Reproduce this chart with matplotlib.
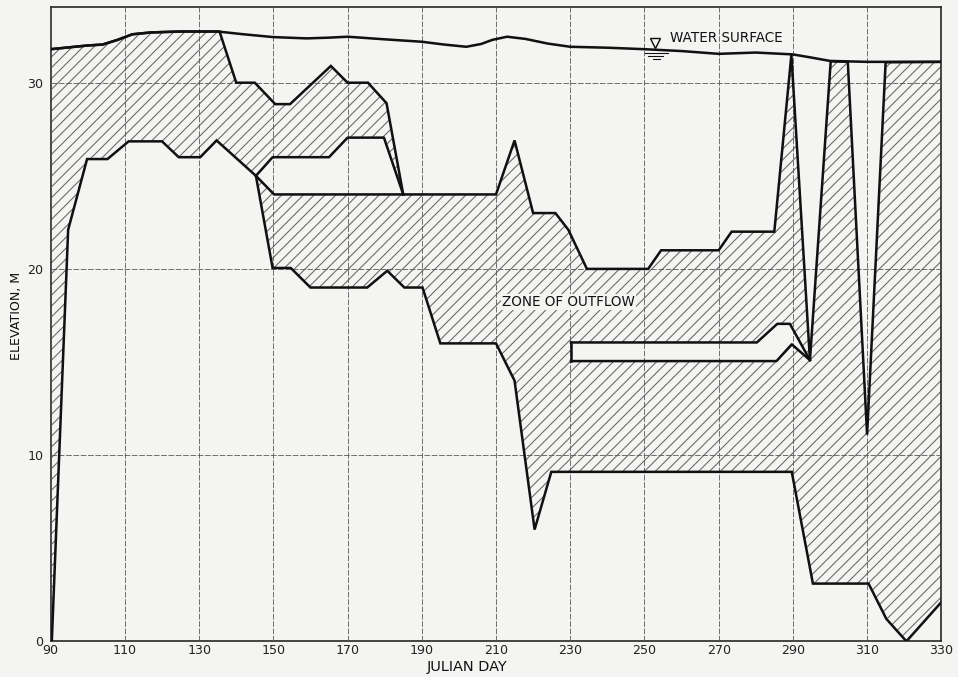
import matplotlib

matplotlib.use("Agg")
import matplotlib.pyplot as plt

# water surface elevation (m) by julian day
ws_day = [90, 95, 100, 104, 108, 112, 117, 125, 135, 142, 150, 159, 165, 170,
          180, 190, 196, 202, 206, 209, 213, 218, 224, 230, 240, 250, 260, 270,
          280, 290, 295, 300, 310, 330]
ws_elev = [31.8, 31.9, 32.0, 32.05, 32.3, 32.6, 32.7, 32.75, 32.75, 32.6, 32.45,
           32.38, 32.42, 32.47, 32.33, 32.2, 32.05, 31.93, 32.08, 32.3, 32.47,
           32.35, 32.1, 31.93, 31.88, 31.8, 31.7, 31.55, 31.62, 31.52, 31.35,
           31.17, 31.12, 31.12]

# upper limit of the zone of outflow
top_day = [90, 95, 100, 104, 108, 112, 117, 125, 135.5, 140, 145, 150.5, 154.5,
           165.5, 170, 175.5, 180.5, 185, 210, 215, 220, 226, 229.5, 234.5, 251,
           254.5, 270, 273.5, 285, 289.6, 294.6, 300.2, 304.8, 310, 315, 330]
top_elev = [31.8, 31.9, 32.0, 32.05, 32.3, 32.6, 32.7, 32.75, 32.75, 30.0, 30.0,
            28.85, 28.85, 30.9, 30.0, 30.0, 28.9, 24.0, 24.0, 26.9, 23.0, 23.0,
            22.1, 20.0, 20.0, 21.0, 21.0, 22.0, 22.0, 31.5, 15.1, 31.15, 31.12,
            11.1, 31.1, 31.12]

# lower limit of the zone of outflow
bot_day = [90.3, 94.7, 99.8, 105.3, 111, 120, 124.5, 130.3, 134.7, 145.3, 149.8,
           154.7, 160, 175.3, 180.7, 185.3, 190.2, 195, 210, 215, 220.4, 224.9,
           289.7, 295.4, 310.4, 315.2, 320.6, 330]
bot_elev = [0.0, 22.1, 25.9, 25.9, 26.85, 26.85, 26.0, 26.0, 26.9, 25.0, 20.05,
            20.05, 19.0, 19.0, 19.9, 19.0, 19.0, 16.0, 16.0, 14.0, 6.0, 9.1,
            9.1, 3.1, 3.1, 1.2, 0.0, 2.1]

# gap between the two outflow layers, days 145-185
gap_top_day = [145.3, 149.8, 165, 170, 179.8, 185]
gap_top_elev = [25.0, 26.0, 26.0, 27.05, 27.05, 24.0]
gap_bot_day = [145.3, 150.2, 185]
gap_bot_elev = [25.0, 24.0, 24.0]

# no-outflow strip, days 230-295
strip_top_day = [230.2, 280.3, 285.8, 289.2, 294.6]
strip_top_elev = [16.05, 16.05, 17.05, 17.05, 15.1]
strip_bot_day = [230.2, 285.6, 289.7, 294.6]
strip_bot_elev = [15.05, 15.05, 15.95, 15.1]

x_ticks = list(range(90, 331, 20))
y_ticks = [0, 10, 20, 30]

BG = "#f4f4f2"
INK = "#111111"

plt.rcParams["hatch.linewidth"] = 0.6
plt.rcParams["font.family"] = "DejaVu Sans"

fig = plt.figure(figsize=(958 / 130, 677 / 130), dpi=130, facecolor=BG)
ax = fig.add_axes([50.7 / 958, 1 - 641.3 / 677, 890.6 / 958, 634 / 677])
ax.set_facecolor(BG)

# hatched zone, then the holes painted back to paper colour
ax.fill(top_day + bot_day[::-1], top_elev + bot_elev[::-1],
        facecolor="none", edgecolor="#6a6a6a", hatch="////", linewidth=0, zorder=1)
ax.fill(gap_top_day + gap_bot_day[::-1], gap_top_elev + gap_bot_elev[::-1],
        facecolor=BG, edgecolor="none", zorder=1.5)
ax.fill(strip_top_day + strip_bot_day[::-1], strip_top_elev + strip_bot_elev[::-1],
        facecolor=BG, edgecolor="none", zorder=1.5)

lw = 1.4
ax.plot(ws_day, ws_elev, color=INK, lw=lw, zorder=3)
ax.plot(top_day, top_elev, color=INK, lw=lw, zorder=3, solid_joinstyle="miter")
ax.plot(bot_day, bot_elev, color=INK, lw=lw, zorder=3, solid_joinstyle="miter")
ax.plot(gap_top_day, gap_top_elev, color=INK, lw=lw, zorder=3)
ax.plot(gap_bot_day, gap_bot_elev, color=INK, lw=lw, zorder=3)
ax.plot(strip_top_day, strip_top_elev, color=INK, lw=lw, zorder=3)
ax.plot(strip_bot_day, strip_bot_elev, color=INK, lw=lw, zorder=3)
ax.plot([strip_top_day[0], strip_bot_day[0]], [strip_top_elev[0], strip_bot_elev[0]],
        color=INK, lw=lw, zorder=3)

ax.set_xlim(90, 330)
ax.set_ylim(0, 34.05)
ax.set_xticks(x_ticks)
ax.set_yticks(y_ticks)
ax.tick_params(length=0, labelsize=7, colors="#222222")
ax.tick_params(axis="x", pad=1.5)
ax.tick_params(axis="y", pad=4)
ax.set_axisbelow(False)
ax.grid(True, color="#555555", lw=0.45, linestyle=(0, (7, 2)))
for s in ax.spines.values():
    s.set_linewidth(0.9)
    s.set_color("#222222")

# water surface symbol and labels
ax.plot([252.8], [32.15], marker="v", markersize=5, mfc="none", mec=INK, mew=0.8, zorder=4)
ax.plot([250.1, 256.4], [31.58, 31.58], color=INK, lw=0.6, zorder=4)
ax.plot([251.0, 255.1], [31.44, 31.44], color=INK, lw=0.6, zorder=4)
ax.plot([252.4, 254.2], [31.28, 31.28], color=INK, lw=0.6, zorder=4)
ax.text(256.9, 32.38, "WATER SURFACE", fontsize=7.5, va="center", ha="left", color=INK)
ax.text(229.6, 18.2, "ZONE OF OUTFLOW", fontsize=7.5, va="center", ha="center", color=INK,
        bbox=dict(facecolor=BG, edgecolor="none", pad=0.5), zorder=4)

fig.text(17 / 958, 1 - 316 / 677, "ELEVATION, M", rotation=90, fontsize=7,
         ha="center", va="center", color=INK)
fig.text(467 / 958, 1 - 667 / 677, "JULIAN DAY", fontsize=8,
         ha="center", va="center", color=INK)

fig.savefig("out.png", dpi=130, facecolor=BG)
